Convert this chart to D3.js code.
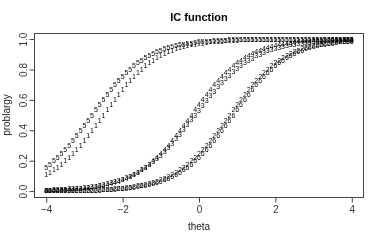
<!DOCTYPE html>
<html>
<head>
<meta charset="utf-8">
<script src="https://cdn.jsdelivr.net/npm/d3@7"></script>
<style>
  body { margin: 0; background: #fff; }
  svg { display: block; font-family: "Liberation Sans", Arial, sans-serif; }
  .layer { opacity: 0.999; will-change: opacity; }
</style>
</head>
<body>
<div id="chart"></div>
<script>
/*
    Data
*/
const theta = [
  -4.0,-3.9,-3.8,-3.7,-3.6,-3.5,-3.4,-3.3,-3.2,-3.1,
  -3.0,-2.9,-2.8,-2.7,-2.6,-2.5,-2.4,-2.3,-2.2,-2.1,
  -2.0,-1.9,-1.8,-1.7,-1.6,-1.5,-1.4,-1.3,-1.2,-1.1,
  -1.0,-0.9,-0.8,-0.7,-0.6,-0.5,-0.4,-0.3,-0.2,-0.1,
  0.0,0.1,0.2,0.3,0.4,0.5,0.6,0.7,0.8,0.9,
  1.0,1.1,1.2,1.3,1.4,1.5,1.6,1.7,1.8,1.9,
  2.0,2.1,2.2,2.3,2.4,2.5,2.6,2.7,2.8,2.9,
  3.0,3.1,3.2,3.3,3.4,3.5,3.6,3.7,3.8,3.9,
  4.0
];

const prob1 = [
  0.109,0.123,0.139,0.157,0.177,0.198,0.221,0.246,0.273,0.302,
  0.332,0.364,0.397,0.430,0.465,0.500,0.535,0.570,0.603,0.636,
  0.668,0.698,0.727,0.754,0.779,0.802,0.823,0.843,0.861,0.877,
  0.891,0.904,0.915,0.926,0.935,0.943,0.950,0.956,0.962,0.966,
  0.971,0.974,0.978,0.981,0.983,0.985,0.987,0.989,0.990,0.992,
  0.993,0.994,0.994,0.995,0.996,0.996,0.997,0.997,0.998,0.998,
  0.998,0.998,0.999,0.999,0.999,0.999,0.999,0.999,0.999,0.999,
  1,1,1,1,1,1,1,1,1,1,
  1
];

const prob2 = [
  0.001,0.001,0.002,0.002,0.002,0.002,0.003,0.003,0.004,0.004,
  0.005,0.006,0.006,0.007,0.008,0.010,0.011,0.013,0.015,0.017,
  0.019,0.022,0.026,0.029,0.034,0.038,0.044,0.050,0.057,0.065,
  0.074,0.085,0.096,0.109,0.123,0.139,0.157,0.177,0.198,0.221,
  0.246,0.273,0.302,0.332,0.364,0.397,0.430,0.465,0.500,0.535,
  0.570,0.603,0.636,0.668,0.698,0.727,0.754,0.779,0.802,0.823,
  0.843,0.861,0.877,0.891,0.904,0.915,0.926,0.935,0.943,0.950,
  0.956,0.962,0.966,0.971,0.974,0.978,0.981,0.983,0.985,0.987,
  0.989
];

const prob3 = [
  0.006,0.007,0.008,0.009,0.010,0.012,0.014,0.015,0.018,0.020,
  0.023,0.026,0.029,0.033,0.037,0.042,0.048,0.054,0.061,0.069,
  0.078,0.088,0.099,0.111,0.125,0.139,0.156,0.174,0.193,0.214,
  0.237,0.261,0.287,0.314,0.343,0.373,0.404,0.435,0.468,0.500,
  0.532,0.565,0.596,0.627,0.657,0.686,0.713,0.739,0.763,0.786,
  0.807,0.826,0.844,0.861,0.875,0.889,0.901,0.912,0.922,0.931,
  0.939,0.946,0.952,0.958,0.963,0.967,0.971,0.974,0.977,0.980,
  0.983,0.985,0.986,0.988,0.990,0.991,0.992,0.993,0.994,0.995,
  0.995
];

const prob4 = [
  0.005,0.006,0.006,0.007,0.008,0.010,0.011,0.013,0.015,0.017,
  0.019,0.022,0.026,0.029,0.034,0.038,0.044,0.050,0.057,0.065,
  0.074,0.085,0.096,0.109,0.123,0.139,0.157,0.177,0.198,0.221,
  0.246,0.273,0.302,0.332,0.364,0.397,0.430,0.465,0.500,0.535,
  0.570,0.603,0.636,0.668,0.698,0.727,0.754,0.779,0.802,0.823,
  0.843,0.861,0.877,0.891,0.904,0.915,0.926,0.935,0.943,0.950,
  0.956,0.962,0.966,0.971,0.974,0.978,0.981,0.983,0.985,0.987,
  0.989,0.990,0.992,0.993,0.994,0.994,0.995,0.996,0.996,0.997,
  0.997
];

const prob5 = [
  0.157,0.177,0.198,0.221,0.246,0.273,0.302,0.332,0.364,0.397,
  0.430,0.465,0.500,0.535,0.570,0.603,0.636,0.668,0.698,0.727,
  0.754,0.779,0.802,0.823,0.843,0.861,0.877,0.891,0.904,0.915,
  0.926,0.935,0.943,0.950,0.956,0.962,0.966,0.971,0.974,0.978,
  0.981,0.983,0.985,0.987,0.989,0.990,0.992,0.993,0.994,0.994,
  0.995,0.996,0.996,0.997,0.997,0.998,0.998,0.998,0.998,0.999,
  0.999,0.999,0.999,0.999,0.999,0.999,0.999,1,1,1,
  1,1,1,1,1,1,1,1,1,1,
  1
];

const prob6 = [
  0.001,0.001,0.001,0.002,0.002,0.002,0.002,0.003,0.003,0.004,
  0.004,0.005,0.006,0.006,0.007,0.008,0.010,0.011,0.013,0.015,
  0.017,0.019,0.022,0.026,0.029,0.034,0.038,0.044,0.050,0.057,
  0.065,0.074,0.085,0.096,0.109,0.123,0.139,0.157,0.177,0.198,
  0.221,0.246,0.273,0.302,0.332,0.364,0.397,0.430,0.465,0.500,
  0.535,0.570,0.603,0.636,0.668,0.698,0.727,0.754,0.779,0.802,
  0.823,0.843,0.861,0.877,0.891,0.904,0.915,0.926,0.935,0.943,
  0.950,0.956,0.962,0.966,0.971,0.974,0.978,0.981,0.983,0.985,
  0.987
];

const seriesLabels = ["1", "2", "3", "4", "5", "6"];
const xTicks = [-4, -2, 0, 2, 4];
const yTicks = [0, 0.2, 0.4, 0.6, 0.8, 1.0];

/*
    Chart
*/
function drawChart() {
    const width = 382;
    const height = 240;
    const left = 34, right = 364, top = 33, bottom = 197;

    const series = [prob1, prob2, prob3, prob4, prob5, prob6];

    // R style axis ranges: data range plus 4% on each side
    const xMin = d3.min(theta), xMax = d3.max(theta);
    const xPad = (xMax - xMin) * 0.04;
    const yMin = d3.min(series, s => d3.min(s)), yMax = d3.max(series, s => d3.max(s));
    const yPad = (yMax - yMin) * 0.04;

    const xScale = d3.scaleLinear().domain([xMin - xPad, xMax + xPad]).range([left, right]);
    const yScale = d3.scaleLinear().domain([yMin - yPad, yMax + yPad]).range([bottom, top]);

    const svg = d3.select("#chart")
        .append("svg")
        .attr("width", width)
        .attr("height", height);

    // Points drawn as the series number, like matplot
    const pts = svg.append("g").attr("class", "layer");
    series.forEach((values, s) => {
        pts.append("g")
            .selectAll("text")
            .data(values)
            .enter()
            .append("text")
            .attr("x", (d, i) => xScale(theta[i]))
            .attr("y", d => yScale(d))
            .attr("text-anchor", "middle")
            .attr("dominant-baseline", "central")
            .style("font-size", "7px")
            .style("fill", "#000")
            .text(seriesLabels[s]);
    });

    // Axes
    const xAxis = svg.append("g")
        .attr("class", "layer")
        .attr("transform", `translate(0, ${bottom + 0.5})`)
        .call(d3.axisBottom(xScale).tickValues(xTicks).tickSize(5).tickPadding(3));
    const yAxis = svg.append("g")
        .attr("class", "layer")
        .attr("transform", `translate(${left + 0.5}, 0)`)
        .call(d3.axisLeft(yScale).tickValues(yTicks).tickSize(5).tickFormat(d3.format(".1f")));
    [xAxis, yAxis].forEach(ax => {
        ax.select(".domain").remove();
        ax.selectAll(".tick line").attr("stroke", "#444");
        ax.selectAll(".tick text")
            .style("font-size", "10px")
            .style("font-family", "Liberation Sans, Arial, sans-serif")
            .style("fill", "#333");
    });
    // R draws the axis line from the first to the last tick only
    svg.append("line")
        .attr("x1", xScale(xTicks[0])).attr("x2", xScale(xTicks[xTicks.length - 1]))
        .attr("y1", bottom + 0.5).attr("y2", bottom + 0.5)
        .attr("stroke", "#444");
    svg.append("line")
        .attr("x1", left + 0.5).attr("x2", left + 0.5)
        .attr("y1", yScale(yTicks[0])).attr("y2", yScale(yTicks[yTicks.length - 1]))
        .attr("stroke", "#444");

    // y tick labels are parallel to the axis
    yAxis.selectAll(".tick text")
        .attr("x", 0)
        .attr("dy", 0)
        .attr("text-anchor", "middle")
        .attr("transform", "translate(-8, 0) rotate(-90)");

    // Box
    svg.append("rect")
        .attr("x", left + 0.5)
        .attr("y", top + 0.5)
        .attr("width", right - left - 1)
        .attr("height", bottom - top)
        .attr("fill", "none")
        .attr("stroke", "#444");

    // Titles
    const labels = svg.append("g").attr("class", "layer");
    labels.append("text")
        .attr("x", (left + right) / 2)
        .attr("y", 21)
        .attr("text-anchor", "middle")
        .style("font-size", "11px")
        .style("font-weight", "bold")
        .text("IC function");
    labels.append("text")
        .attr("x", (left + right) / 2)
        .attr("y", 229.5)
        .attr("text-anchor", "middle")
        .style("font-size", "10px")
        .style("fill", "#222")
        .text("theta");
    labels.append("text")
        .attr("transform", `translate(10, ${(top + bottom) / 2}) rotate(-90)`)
        .attr("text-anchor", "middle")
        .style("font-size", "10px")
        .style("fill", "#222")
        .text("problargy");
}

drawChart();
</script>
</body>
</html>
